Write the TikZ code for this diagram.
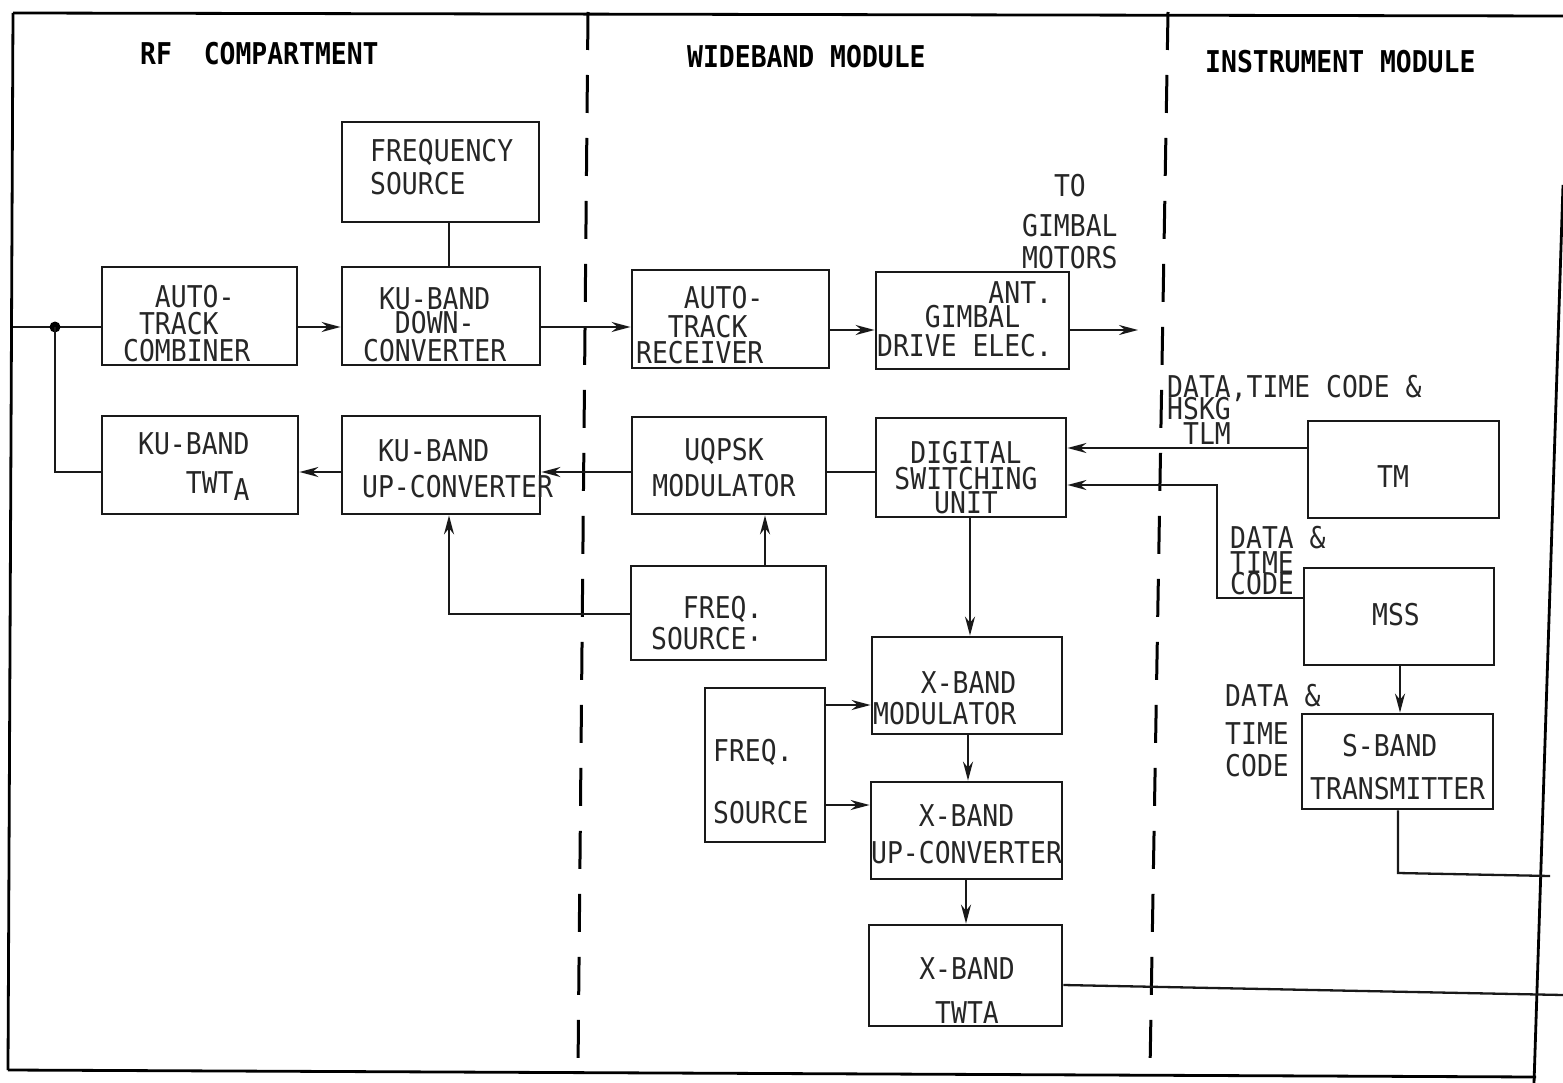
\documentclass[tikz,border=0pt]{standalone}
\usepackage{fontspec}
\newfontfamily\tw{DejaVu Sans Mono}[FakeStretch=0.88]
\usetikzlibrary{arrows.meta}
\newcommand\blk[5]{\node[box, minimum width={(#4-#2)*1pt}, minimum height={(#5-#3)*1pt}] (#1) at ({(#2+#4)/2},{(#3+#5)/2}) {};}
\begin{document}
\begin{tikzpicture}[x=1pt,y=-1pt,
  box/.style={draw=black!90, line width=2.8pt, inner sep=0pt},
  txt/.style={font=\tw\fontsize{30}{30}\selectfont, inner sep=0pt, text=black!85},
  lt/.style={txt, anchor=north west, align=left},
  ct/.style={txt, anchor=north, align=center},
  ttl/.style={lt, font=\tw\bfseries\fontsize{30}{30}\selectfont, text=black},
  wire/.style={draw=black!90, line width=2.3pt},
  arr/.style={wire, -{Stealth[length=19pt,width=10pt]}},
  divider/.style={draw=black, line width=3pt, dash pattern=on 38pt off 25pt},
  frame/.style={draw=black, line width=2.8pt}]
\useasboundingbox (0,0) rectangle (1563,1083);

% frame and dividers
\draw[frame] (13,13) -- (1563,16);
\draw[frame] (13,13) -- (8,1070);
\draw[frame] (8,1070) -- (1536,1077);
\draw[frame] (1563,185) -- (1534,1083);
\draw[divider] (588,12) -- (578,1070);
\draw[divider] (1168,12) -- (1150,1070);

% section titles
\node[ttl] (t-rf) at (140,42) {RF\hphantom{XX}COMPARTMENT};
\node[ttl] (t-wb) at (687,45) {WIDEBAND MODULE};
\node[ttl] (t-im) at (1205,50) {INSTRUMENT MODULE};

% blocks
\blk{fsrc}{342}{122}{539}{222}
\blk{atc}{102}{267}{297}{365}
\blk{kdc}{342}{267}{540}{365}
\blk{ktw}{102}{416}{298}{514}
\blk{kuc}{342}{416}{540}{514}
\blk{atr}{632}{270}{829}{368}
\blk{agd}{876}{272}{1069}{369}
\blk{uqm}{632}{417}{826}{514}
\blk{dsu}{876}{418}{1066}{517}
\blk{fs2}{631}{566}{826}{660}
\blk{xmod}{872}{637}{1062}{734}
\blk{fs3}{705}{688}{825}{842}
\blk{xuc}{871}{782}{1062}{879}
\blk{xtw}{869}{925}{1062}{1026}
\blk{tm}{1308}{421}{1499}{518}
\blk{mss}{1304}{568}{1494}{665}
\blk{sbt}{1302}{714}{1493}{809}

% block texts
\node[lt] (fsrc-t) at (370,139) {FREQUENCY\\[3pt]SOURCE};
\node[lt] (atc-t) at (123,285) {\hphantom{XX}AUTO-\\[-3pt]\hphantom{X}TRACK\\[-3pt]COMBINER};
\node[lt] (kdc-t) at (363,287) {\hphantom{X}KU-BAND\\[-6pt]\hphantom{XX}DOWN-\\[-2pt]CONVERTER};
\node[lt] (ktw-t) at (138,432) {KU-BAND\\[9pt]\hphantom{XXX}TWT\raisebox{-7pt}{A}};
\node[lt] (kuc-t) at (362,439) {\hphantom{X}KU-BAND\\[6pt]UP-CONVERTER};
\node[lt] (atr-t) at (636,286) {\hphantom{XXX}AUTO-\\[-1pt]\hphantom{XX}TRACK\\[-4pt]RECEIVER};
\node[lt] (agd-t) at (877,281) {\hphantom{XXXXXXX}ANT.\\[-6pt]\hphantom{XXX}GIMBAL\\[-1pt]DRIVE ELEC.};
\node[ct] (uqm-t) at (724,438) {UQPSK\\[6pt]MODULATOR};
\node[ct] (dsu-t) at (966,441) {DIGITAL\\[-4pt]SWITCHING\\[-6pt]UNIT};
\node[lt] (fs2-t) at (651,596) {\hphantom{XX}FREQ.\\[1pt]SOURCE·};
\node[lt] (xmod-t) at (873,671) {\hphantom{XXX}X-BAND\\[1pt]MODULATOR};
\node[lt] (fs3-t) at (713,739) {FREQ.\\[32pt]SOURCE};
\node[lt] (xuc-t) at (871,804) {\hphantom{XXX}X-BAND\\[7pt]UP-CONVERTER};
\node[ct] (xtw-t) at (967,957) {X-BAND\\[14pt]TWTA};
\node[txt] (tm-t) at (1393,477) {TM};
\node[txt] (mss-t) at (1396,615) {MSS};
\node[lt] (sbt-t) at (1310,734) {\hphantom{XX}S-BAND\\[13pt]TRANSMITTER};

% free labels
\node[lt] (gm-t) at (1022,174) {\hphantom{XX}TO\\[10pt]GIMBAL\\[2pt]MOTORS};
\node[lt] (tm-l) at (1167,375) {DATA,TIME CODE \&\\[-8pt]HSKG\\[-5pt]\hphantom{X}TLM};
\node[lt] (mss-l) at (1230,526) {DATA \&\\[-5pt]TIME\\[-9pt]CODE};
\node[lt] (sbt-l) at (1225,684) {DATA \&\\[8pt]TIME\\[2pt]CODE};

% helper coordinates
\coordinate (in) at (13,327);
\coordinate (jn) at (55,327);
\coordinate (r2) at (0,330);
\coordinate (gm) at (1138,330);
\coordinate (r3) at (0,472);
\coordinate (r4) at (0,614);
\coordinate (r5) at (0,705);
\coordinate (r5b) at (0,805);
\coordinate (r6) at (0,985);
\coordinate (xo) at (1563,995);
\coordinate (r7) at (0,448);
\coordinate (m1) at (1217,598);
\coordinate (m2) at (1217,485);
\coordinate (s1) at (1398,873);
\coordinate (so) at (1550,876);
\coordinate (c449) at (449,0);
\coordinate (c765) at (765,0);
\coordinate (c970) at (970,0);
\coordinate (c968) at (968,0);
\coordinate (c966) at (966,0);
\coordinate (c1400) at (1400,0);

% connectors
\draw[wire] (in) -- (jn) -- (jn -| atc.west);
\fill[black] (jn) circle (5.5pt);
\draw[wire] (jn) -- (jn |- r3) -- (r3 -| ktw.west);
\draw[arr] (jn -| atc.east) -- (jn -| kdc.west);
\draw[wire] (fsrc.south -| c449) -- (kdc.north -| c449);
\draw[arr] (jn -| kdc.east) -- (jn -| atr.west);
\draw[arr] (r2 -| atr.east) -- (r2 -| agd.west);
\draw[arr] (r2 -| agd.east) -- (gm);
\draw[arr] (r3 -| uqm.west) -- (r3 -| kuc.east);
\draw[arr] (r3 -| kuc.west) -- (r3 -| ktw.east);
\draw[wire] (r3 -| dsu.west) -- (r3 -| uqm.east);
\draw[arr] (fs2.north -| c765) -- (uqm.south -| c765);
\draw[arr] (r4 -| fs2.west) -- (r4 -| c449) -- (kuc.south -| c449);
\draw[arr] (dsu.south -| c970) -- (xmod.north -| c970);
\draw[arr] (r5 -| fs3.east) -- (r5 -| xmod.west);
\draw[arr] (r5b -| fs3.east) -- (r5b -| xuc.west);
\draw[arr] (xmod.south -| c968) -- (xuc.north -| c968);
\draw[arr] (xuc.south -| c966) -- (xtw.north -| c966);
\draw[wire] (r6 -| xtw.east) -- (xo);
\draw[arr] (r7 -| tm.west) -- (r7 -| dsu.east);
\draw[arr] (m1 -| mss.west) -- (m1) -- (m2) -- (m2 -| dsu.east);
\draw[arr] (mss.south -| c1400) -- (sbt.north -| c1400);
\draw[wire] (sbt.south -| s1) -- (s1) -- (so);
\end{tikzpicture}
\end{document}
